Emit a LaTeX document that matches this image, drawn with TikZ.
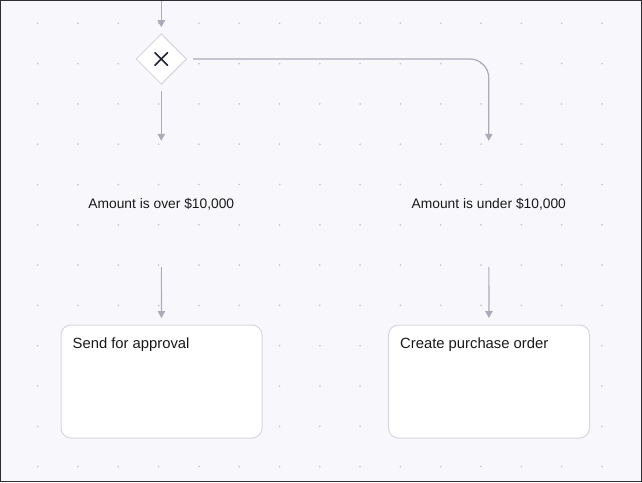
\documentclass[tikz,border=0pt]{standalone}
\usepackage{fontspec}
\setmainfont{Liberation Sans}
\usepackage{tikz}
\usetikzlibrary{arrows.meta,shapes.geometric}

\definecolor{canvasbg}{HTML}{F8F8FC}
\definecolor{canvasframe}{HTML}{2E2E33}
\definecolor{griddot}{HTML}{C9C9D3}
\definecolor{flowline}{HTML}{ABABBA}
\definecolor{boxline}{HTML}{D6D6DE}
\definecolor{gwmark}{HTML}{1F2333}

\begin{document}
\begin{tikzpicture}[x=1pt, y=1pt,
	flow/.style={draw=flowline, line width=1.2pt, -{Triangle[length=7pt,width=7.5pt]}},
	gateway/.style={diamond, draw=boxline, fill=white, line width=1pt, inner sep=0pt, minimum size=50.5pt},
	cond/.style={font=\fontsize{13.8}{16}\selectfont, text=black!90, minimum height=126pt, inner sep=0pt},
	task/.style={draw=boxline, fill=white, line width=1pt, rounded corners=10pt, minimum width=201pt, minimum height=113pt},
	tasktext/.style={anchor=north west, inner sep=0pt, font=\fontsize{14.8}{17}\selectfont, text=black!90}]
	% canvas
	\fill[canvasbg] (0,0) rectangle (642,-482);
	\draw[canvasframe, line width=1.2pt] (0.6,-0.6) rectangle (641.4,-481.4);
	\useasboundingbox (0,0) rectangle (642,-482);
	\foreach \i in {0,...,14}
		\foreach \j in {0,...,11}
			\fill[griddot] (37.7+40.3*\i, -23.3-40.3*\j) circle (1pt);

	% nodes
	\coordinate (start) at (161.3,-1);
	\node[gateway] (gw) at (161.3,-59) {};
	\draw[gwmark, line width=1.5pt, line cap=round]
		([shift={(-6.3,-6.3)}]gw.center) -- ([shift={(6.3,6.3)}]gw.center)
		([shift={(-6.3,6.3)}]gw.center) -- ([shift={(6.3,-6.3)}]gw.center);
	\node[cond] (over) at (161.3,-204) {Amount is over \$10,000};
	\node[cond] (under) at (488.8,-204) {Amount is under \$10,000};
	\node[task] (send) at (161.5,-381.5) {};
	\node[task] (po) at (489,-381.5) {};
	\node[tasktext] (sendtxt) at ([xshift=12pt,yshift=-13pt]send.north west) {Send for approval};
	\node[tasktext] (potxt) at ([xshift=12pt,yshift=-13pt]po.north west) {Create purchase order};

	% connectors
	\draw[flow, shorten >=6pt] (start) -- (gw);
	\draw[flow, shorten <=6pt] (gw) -- (over);
	\draw[flow, shorten >=6.5pt] (over) -- (send);
	\draw[flow, shorten >=6.5pt] (under) -- (po);
	\draw[flow, rounded corners=19pt, shorten <=6pt] (gw) -| (under);
\end{tikzpicture}
\end{document}
